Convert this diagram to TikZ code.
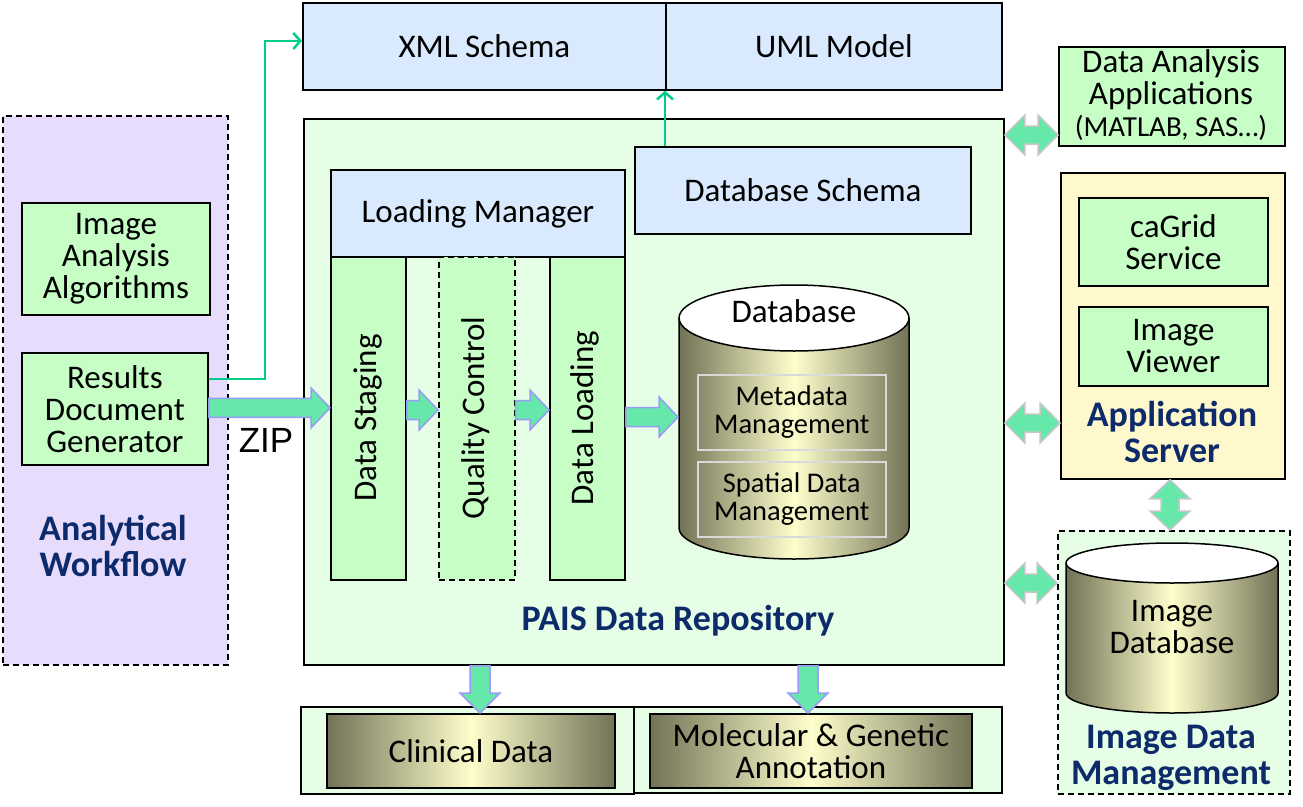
\documentclass[tikz,border=0pt]{standalone}
\usepackage{fontspec}
\setmainfont{Carlito}
\newfontfamily\arialf{Liberation Sans}
\usetikzlibrary{calc,arrows.meta}
\definecolor{lav}{HTML}{E8DCFC}
\definecolor{lgreen}{HTML}{C6FEC6}
\definecolor{pale}{HTML}{E6FEE6}
\definecolor{lblue}{HTML}{DAEAFE}
\definecolor{lyel}{HTML}{FEF8CC}
\definecolor{dblue}{HTML}{0D2A6A}
\definecolor{mint}{HTML}{66E8AA}
\definecolor{arrbd}{HTML}{9A9AF8}
\definecolor{thinline}{HTML}{00CC8C}
\definecolor{olive}{HTML}{727256}
\definecolor{cream}{HTML}{FEFECC}
\tikzset{
  box/.style={draw=black, line width=1.8pt, inner sep=0pt, align=center, font=\fontsize{33}{32}\selectfont},
  dbox/.style={box, dash pattern=on 6pt off 4pt, line width=1.5pt},
  lbl/.style={font=\fontsize{33}{32}\selectfont, align=center, inner sep=0pt},
  small/.style={font=\fontsize{28.5}{28}\selectfont},
  big/.style={font=\fontsize{36}{36}\selectfont\bfseries, text=dblue, align=center, inner sep=0pt},
  blockarr/.style={fill=mint, draw=arrbd, line width=1.5pt, line join=miter},
  dblarr/.style={fill=mint, draw=black!22, line width=1.5pt, line join=miter},
  thin/.style={draw=thinline, line width=2.5pt},
  olivesh/.style={left color=olive, right color=olive, middle color=cream},
}
% right-pointing block arrow from #1 to #2 (uses y of #1)
\newcommand\arrR[2]{\path[blockarr] let \p1=(#1), \p2=(#2) in
  (\x1,\y1+9.5pt) -- (\x2-19pt,\y1+9.5pt) -- (\x2-19pt,\y1+20pt) -- (\x2,\y1)
  -- (\x2-19pt,\y1-20pt) -- (\x2-19pt,\y1-9.5pt) -- (\x1,\y1-9.5pt) -- cycle;}
% down-pointing block arrow from #1 to #2 (uses x of #1)
\newcommand\arrD[2]{\path[blockarr] let \p1=(#1), \p2=(#2) in
  (\x1-10pt,\y1) -- (\x1-10pt,\y2+20pt) -- (\x1-20pt,\y2+20pt) -- (\x1,\y2)
  -- (\x1+20pt,\y2+20pt) -- (\x1+10pt,\y2+20pt) -- (\x1+10pt,\y1) -- cycle;}
% horizontal double block arrow from #1 to #2 (uses y of #1)
\newcommand\arrH[2]{\path[dblarr] let \p1=(#1), \p2=(#2) in
  (\x1,\y1) -- (\x1+20pt,\y1+20pt) -- (\x1+20pt,\y1+9pt) -- (\x2-20pt,\y1+9pt)
  -- (\x2-20pt,\y1+20pt) -- (\x2,\y1) -- (\x2-20pt,\y1-20pt) -- (\x2-20pt,\y1-9pt)
  -- (\x1+20pt,\y1-9pt) -- (\x1+20pt,\y1-20pt) -- cycle;}
% vertical double block arrow from #1 (top) to #2 (bottom), uses x of #1
\newcommand\arrV[2]{\path[dblarr] let \p1=(#1), \p2=(#2) in
  (\x1,\y1) -- (\x1+20pt,\y1-19pt) -- (\x1+9pt,\y1-19pt) -- (\x1+9pt,\y2+19pt)
  -- (\x1+20pt,\y2+19pt) -- (\x1,\y2) -- (\x1-20pt,\y2+19pt) -- (\x1-9pt,\y2+19pt)
  -- (\x1-9pt,\y1-19pt) -- (\x1-20pt,\y1-19pt) -- cycle;}
\begin{document}
\begin{tikzpicture}[x=1pt,y=-1pt]
\useasboundingbox[fill=white] (0,0) rectangle (1303,806);

% ---------- Analytical workflow ----------
\node[dbox, fill=lav, minimum width=225, minimum height=549, anchor=north west] (aw) at (2,115) {};
\node[box, fill=lgreen, minimum width=188, minimum height=112, anchor=north west] (iaa) at (21,202) {Image\\Analysis\\Algorithms};
\node[box, fill=lgreen, minimum width=186, minimum height=112, anchor=north west] (rdg) at (21,352) {Results\\Document\\Generator};
\node[big] (awl) at (113,546) {Analytical\\Workflow};

% ---------- top schema boxes ----------
\node[box, fill=lblue, minimum width=363, minimum height=87, anchor=north west] (xml) at (302,2) {XML Schema};
\node[box, fill=lblue, minimum width=336, minimum height=87, anchor=north west] (uml) at (665,2) {UML Model};

% ---------- PAIS repository ----------
\node[box, fill=pale, minimum width=700, minimum height=546, anchor=north west] (pais) at (303,118) {};
\node[box, fill=lblue, minimum width=336, minimum height=87, anchor=north west] (dbs) at (634,146) {Database Schema};
\node[box, fill=lblue, minimum width=294, minimum height=87, anchor=north west] (lm) at (330,169) {Loading Manager};
\node[box, fill=lgreen, minimum width=75, minimum height=323, anchor=north west] (ds) at (330,256) {};
\node[dbox, fill=lgreen, minimum width=76, minimum height=323, anchor=north west] (qc) at (438,256) {};
\node[box, fill=lgreen, minimum width=75, minimum height=323, anchor=north west] (dl) at (549,256) {};
\node[lbl, rotate=90] (dst) at (368,418) {Data Staging};
\node[lbl, rotate=90] (qct) at (476,418) {Quality Control};
\node[lbl, rotate=90] (dlt) at (585,418) {Data Loading};
\node[big] (paist) at (678,621) {PAIS Data Repository};

% database cylinder
\path[olivesh] (679,318) -- (679,528) arc[start angle=180, end angle=0, x radius=115, y radius=31] -- (909,318) -- cycle;
\draw[line width=1.5pt] (679,318) -- (679,528) arc[start angle=180, end angle=0, x radius=115, y radius=31] -- (909,318);
\draw[line width=1.5pt, fill=white] (794,318) ellipse[x radius=115, y radius=33];
\node[lbl] (dbt) at (794,311) {Database};
\node[draw=black!15, line width=1.5pt, minimum width=188, minimum height=75, anchor=north west, lbl, small] (meta) at (697,374) {Metadata\\Management};
\node[draw=black!15, line width=1.5pt, minimum width=188, minimum height=75, anchor=north west, lbl, small] (spat) at (697,461) {Spatial Data\\Management};
\coordinate (dbw) at (678,417);

% ---------- right column ----------
\node[box, fill=lgreen, minimum width=226, minimum height=99, anchor=north west] (daa) at (1058,46) {};
\node[lbl] (daat) at (1171,95) {Data Analysis\\Applications\\{\fontsize{29}{30}\selectfont (MATLAB, SAS…)}};
\node[box, fill=lyel, minimum width=224, minimum height=306, anchor=north west] (as) at (1060,172) {};
\node[box, fill=lgreen, minimum width=189, minimum height=88, anchor=north west] (cag) at (1078,197) {caGrid\\Service};
\node[box, fill=lgreen, minimum width=189, minimum height=79, anchor=north west] (iv) at (1078,306) {Image\\Viewer};
\node[big] (ast) at (1172,432) {Application\\Server};

\node[dbox, fill=pale, minimum width=232, minimum height=263, anchor=north west] (idm) at (1057,530) {};
\path[olivesh] (1066,563) -- (1066,693) arc[start angle=180, end angle=0, x radius=106, y radius=20] -- (1278,563) -- cycle;
\draw[line width=1.5pt] (1066,563) -- (1066,693) arc[start angle=180, end angle=0, x radius=106, y radius=20] -- (1278,563);
\draw[line width=1.5pt, fill=white] (1172,563) ellipse[x radius=106, y radius=20];
\node[lbl] (idb) at (1172,627) {Image\\Database};
\node[big] (idmt) at (1171,758) {Image Data\\Management};

% ---------- bottom boxes ----------
\node[box, fill=pale, minimum width=333, minimum height=87, anchor=north west] (clo) at (300,706) {};
\node[box, fill=pale, minimum width=368, minimum height=86, anchor=north west] (mgo) at (633,706) {};
\node[box, olivesh, minimum width=288, minimum height=74, anchor=north west] (cli) at (326,713) {Clinical Data};
\node[box, olivesh, minimum width=322, minimum height=74, anchor=north west] (mgi) at (649,713) {Molecular \& Genetic\\Annotation};

% ---------- connectors ----------
\coordinate (rdgz) at ($(rdg.east)+(0,-30)$);
\draw[thin, -{Straight Barb[length=7pt,width=16pt]}] (rdgz) -| (265,41) -- (xml.west |- 0,41);
\draw[thin, -{Straight Barb[length=7pt,width=16pt]}] (dbs.north -| uml.west) -- (uml.south west);

\coordinate (rdga) at ($(rdg.east)+(0,-1)$);
\arrR{rdga}{ds.west}
\node[lbl, font=\arialf\fontsize{35}{35}\selectfont] (zip) at (266,440) {ZIP};
\coordinate (a1) at (ds.east |- 0,410);
\arrR{a1}{qc.west}
\coordinate (a2) at (qc.east |- 0,410);
\arrR{a2}{dl.west}
\coordinate (a3) at (dl.east |- 0,417);
\arrR{a3}{dbw}

\coordinate (d1) at (pais.south -| 480,0);
\arrD{d1}{cli.north -| 480,0}
\coordinate (d2) at (pais.south -| 808,0);
\arrD{d2}{mgi.north -| 808,0}

\coordinate (h1) at (pais.east |- 0,135);
\arrH{h1}{daa.west |- 0,135}
\coordinate (h2) at (pais.east |- 0,423);
\arrH{h2}{as.west |- 0,423}
\coordinate (h3) at (pais.east |- 0,583);
\arrH{h3}{idm.west |- 0,583}
\coordinate (v1) at (as.south -| 1170,0);
\arrV{v1}{idm.north -| 1170,0}
\end{tikzpicture}
\end{document}
